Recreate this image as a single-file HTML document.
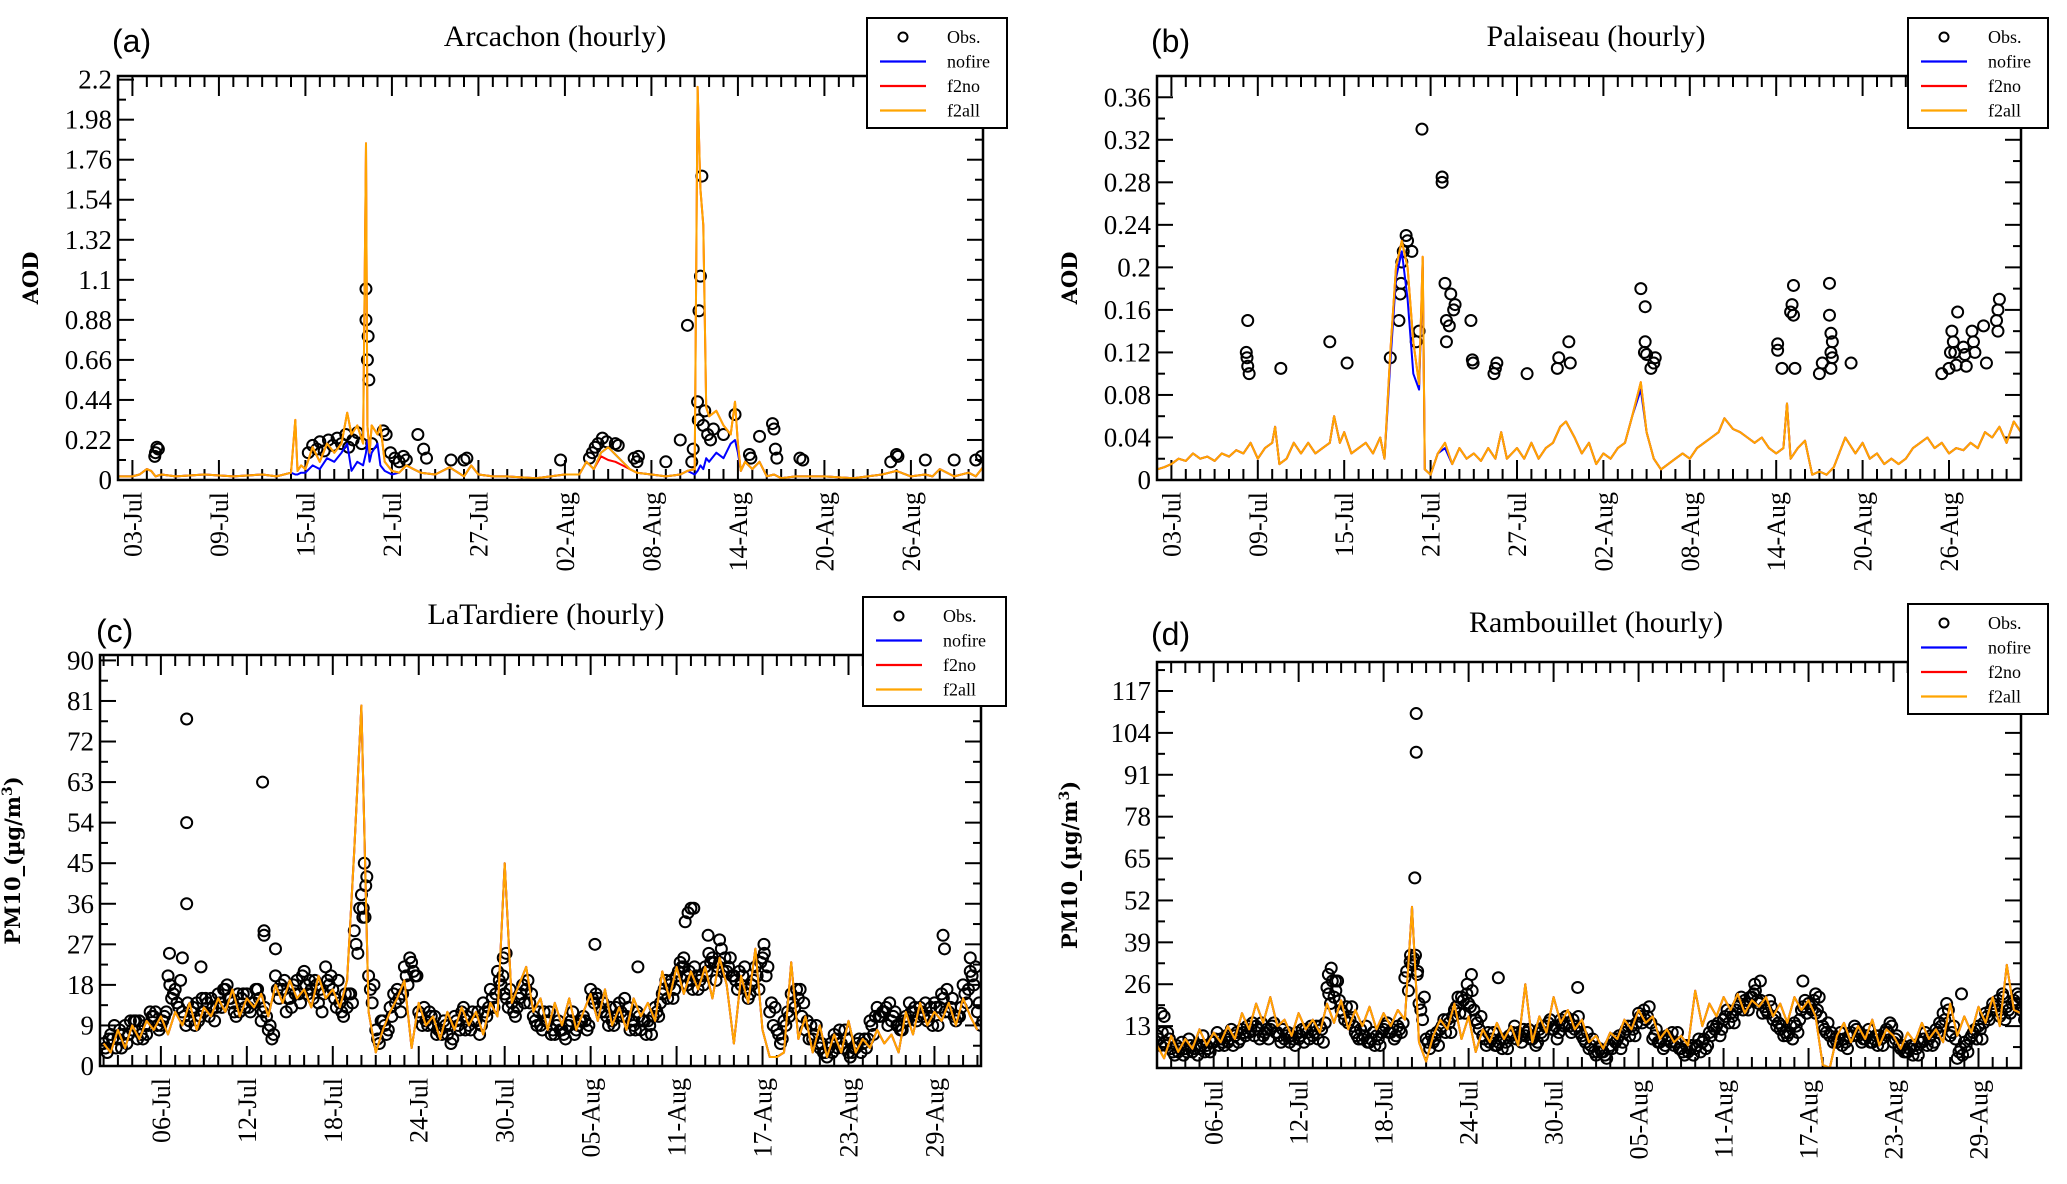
<!DOCTYPE html>
<html><head><meta charset="utf-8"><style>
html,body{margin:0;padding:0;background:#fff;}
svg{display:block;}
text{font-family:"Liberation Serif",serif;fill:#000;}
</style></head><body>
<svg id="chart" width="2067" height="1184" viewBox="0 0 2067 1184" xmlns="http://www.w3.org/2000/svg"></svg>
<script>
// ---------- Panel (a) Arcachon AOD ----------
const timeA = [1,2,2.5,3,3.3,3.6,4,5,7,9,11,12,13,13.3,13.45,13.7,14,14.5,15,15.5,16,16.5,16.9,17.2,17.6,18.0,18.2,18.3,18.45,18.6,19,19.2,19.5,20,20.5,21,21.5,22,23,24,25,25.5,26,27,28,30,32,33,33.5,34,34.5,35,35.5,36,36.5,37,38,39,40,40.5,41,41.2,41.4,41.6,41.8,42,42.5,43,43.5,43.8,44,44.2,44.5,45,45.5,46,46.5,47,48,50,52,54,55,56,57,57.5,58,59,60,60.5,61];
const f2allA = [0.02,0.02,0.03,0.06,0.05,0.02,0.03,0.02,0.03,0.02,0.03,0.02,0.04,0.33,0.05,0.08,0.06,0.18,0.1,0.2,0.15,0.2,0.37,0.25,0.3,0.2,1.85,0.3,0.15,0.3,0.25,0.3,0.1,0.05,0.04,0.08,0.06,0.04,0.03,0.07,0.02,0.08,0.03,0.02,0.02,0.01,0.03,0.03,0.1,0.06,0.15,0.18,0.14,0.1,0.06,0.04,0.03,0.02,0.03,0.05,0.06,2.16,1.6,1.4,0.4,0.35,0.38,0.3,0.25,0.43,0.2,0.05,0.1,0.06,0.1,0.02,0.03,0.01,0.02,0.02,0.01,0.03,0.05,0.02,0.03,0.02,0.06,0.02,0.04,0.02,0.07];
const f2noA = [0.02,0.02,0.03,0.06,0.05,0.02,0.03,0.02,0.03,0.02,0.03,0.02,0.04,0.33,0.05,0.08,0.06,0.18,0.1,0.2,0.15,0.2,0.37,0.25,0.3,0.2,1.85,0.3,0.15,0.3,0.25,0.3,0.1,0.05,0.04,0.08,0.06,0.04,0.03,0.07,0.02,0.08,0.03,0.02,0.02,0.01,0.03,0.03,0.1,0.06,0.13,0.11,0.1,0.08,0.06,0.04,0.03,0.02,0.03,0.05,0.06,2.16,1.6,1.4,0.4,0.35,0.38,0.3,0.25,0.43,0.2,0.05,0.1,0.06,0.1,0.02,0.03,0.01,0.02,0.02,0.01,0.03,0.05,0.02,0.03,0.02,0.06,0.02,0.04,0.02,0.07];
const nofireA = [0.02,0.02,0.03,0.06,0.05,0.02,0.03,0.02,0.03,0.02,0.03,0.02,0.04,0.03,0.03,0.04,0.04,0.08,0.06,0.12,0.1,0.15,0.2,0.05,0.1,0.08,0.15,0.22,0.1,0.15,0.2,0.08,0.05,0.03,0.04,0.08,0.06,0.04,0.03,0.07,0.02,0.08,0.03,0.02,0.02,0.01,0.03,0.03,0.1,0.06,0.15,0.18,0.14,0.1,0.06,0.04,0.03,0.02,0.03,0.05,0.03,0.05,0.08,0.06,0.12,0.1,0.15,0.12,0.2,0.22,0.15,0.05,0.1,0.06,0.1,0.02,0.03,0.01,0.02,0.02,0.01,0.03,0.05,0.02,0.03,0.02,0.06,0.02,0.04,0.02,0.07];
const obsTimeA = [3.55,3.6,3.7,3.8,14.2,14.5,14.8,15.0,15.3,15.6,15.9,16.2,16.5,16.8,17.0,17.3,17.6,17.9,18.2,18.2,18.3,18.35,18.4,18.6,19.4,19.6,19.9,20.2,20.5,20.8,21.0,21.8,22.2,22.4,24.1,25.0,25.2,31.7,33.7,33.9,34.1,34.3,34.6,34.9,35.5,35.7,36.8,37.0,37.1,39.0,40.0,40.5,40.8,40.9,41.2,41.25,41.3,41.4,41.5,41.6,41.7,41.9,42.1,42.3,43.0,43.8,44.8,44.9,45.5,46.4,46.5,46.6,46.7,48.3,48.5,54.6,55.0,55.1,57.0,59.0,60.5,60.9];
const obsA = [0.13,0.15,0.18,0.17,0.15,0.19,0.17,0.21,0.16,0.22,0.19,0.23,0.2,0.25,0.18,0.22,0.26,0.2,1.05,0.88,0.66,0.79,0.55,0.2,0.27,0.25,0.15,0.12,0.1,0.13,0.11,0.25,0.17,0.12,0.11,0.11,0.12,0.11,0.12,0.15,0.18,0.2,0.23,0.21,0.2,0.19,0.12,0.1,0.13,0.1,0.22,0.85,0.1,0.17,0.43,0.33,0.93,1.12,1.67,0.3,0.38,0.25,0.22,0.28,0.25,0.36,0.14,0.12,0.24,0.31,0.28,0.17,0.12,0.12,0.11,0.1,0.14,0.13,0.11,0.11,0.11,0.13];
const yTicksA = [0,0.22,0.44,0.66,0.88,1.1,1.32,1.54,1.76,1.98,2.2];
const yLabelsA = ["0","0.22","0.44","0.66","0.88","1.1","1.32","1.54","1.76","1.98","2.2"];

// ---------- Panel (b) Palaiseau AOD ----------
const timeB = [1,1.5,2,2.5,3,3.5,4,4.5,5,5.5,6,6.5,7,7.5,8,8.5,9,9.2,9.5,10,10.5,11,11.5,12,12.5,13,13.3,13.7,14,14.5,15,15.5,16,16.5,16.8,17.2,17.6,18.0,18.4,18.8,19.2,19.45,19.6,20,20.5,21,21.5,22,22.5,23,23.5,24,24.5,24.9,25.3,26,26.5,27,27.5,28,28.5,29,29.4,30,30.5,31,31.5,32,32.5,33,33.5,34,34.6,35,35.5,36,36.5,37,37.5,38,38.5,39,39.5,40,40.4,41,41.5,42,42.5,43,43.5,44,44.5,44.75,45,45.5,46,46.5,47,47.5,48,48.8,49.5,50,50.5,51,51.5,52,52.5,53,53.5,54,54.5,55,55.5,56,56.5,57,57.5,58,58.5,59,59.5,60,60.5,61];
const f2allB = [0.01,0.012,0.015,0.02,0.018,0.025,0.02,0.022,0.018,0.025,0.022,0.028,0.025,0.035,0.02,0.03,0.035,0.05,0.015,0.02,0.035,0.025,0.035,0.025,0.03,0.035,0.06,0.035,0.045,0.025,0.03,0.035,0.025,0.04,0.02,0.12,0.2,0.225,0.2,0.13,0.09,0.21,0.01,0.005,0.025,0.035,0.015,0.03,0.02,0.025,0.018,0.03,0.02,0.045,0.02,0.03,0.02,0.035,0.02,0.03,0.035,0.05,0.055,0.04,0.025,0.035,0.015,0.025,0.02,0.03,0.035,0.06,0.092,0.045,0.02,0.01,0.015,0.02,0.025,0.02,0.03,0.035,0.04,0.045,0.058,0.048,0.045,0.04,0.035,0.04,0.03,0.025,0.03,0.072,0.02,0.03,0.037,0.005,0.008,0.005,0.012,0.04,0.025,0.035,0.02,0.025,0.015,0.02,0.015,0.02,0.03,0.035,0.04,0.03,0.035,0.025,0.03,0.028,0.035,0.03,0.045,0.04,0.05,0.035,0.055,0.045];
const nofireB = [0.01,0.012,0.015,0.02,0.018,0.025,0.02,0.022,0.018,0.025,0.022,0.028,0.025,0.035,0.02,0.03,0.035,0.05,0.015,0.02,0.035,0.025,0.035,0.025,0.03,0.035,0.06,0.035,0.045,0.025,0.03,0.035,0.025,0.04,0.02,0.11,0.19,0.215,0.17,0.1,0.085,0.2,0.01,0.005,0.025,0.03,0.015,0.03,0.02,0.025,0.018,0.03,0.02,0.045,0.02,0.03,0.02,0.035,0.02,0.03,0.035,0.05,0.055,0.04,0.025,0.035,0.015,0.025,0.02,0.03,0.035,0.06,0.085,0.045,0.02,0.01,0.015,0.02,0.025,0.02,0.03,0.035,0.04,0.045,0.058,0.048,0.045,0.04,0.035,0.04,0.03,0.025,0.03,0.072,0.02,0.03,0.037,0.005,0.008,0.005,0.012,0.04,0.025,0.035,0.02,0.025,0.015,0.02,0.015,0.02,0.03,0.035,0.04,0.03,0.035,0.025,0.03,0.028,0.035,0.03,0.045,0.04,0.05,0.035,0.055,0.045];
const f2noB = f2allB;
const obsTimeB = [7.3,7.2,7.25,7.3,7.4,9.6,13.0,14.2,17.2,17.8,17.9,17.95,18.0,18.1,18.3,18.4,18.7,19.0,19.2,19.4,20.8,20.8,21.0,21.1,21.1,21.3,21.4,21.6,21.7,22.8,22.9,22.95,24.5,24.6,24.4,26.7,28.8,28.9,29.6,29.7,34.6,34.9,34.9,34.85,35.0,35.3,35.5,35.6,44.1,44.1,44.4,45.0,45.1,45.2,45.2,45.3,47.0,47.2,47.7,47.7,47.8,47.9,47.8,47.9,47.8,49.2,55.5,56.0,56.1,56.2,56.3,56.4,56.6,56.5,57.0,57.1,57.2,57.6,57.7,57.8,58.4,58.6,59.4,59.5,59.4,59.3];
const obsB = [0.15,0.12,0.115,0.107,0.1,0.105,0.13,0.11,0.115,0.15,0.175,0.185,0.205,0.215,0.23,0.225,0.215,0.13,0.14,0.33,0.28,0.285,0.185,0.15,0.13,0.145,0.175,0.16,0.165,0.15,0.113,0.11,0.105,0.11,0.1,0.1,0.105,0.115,0.13,0.11,0.18,0.163,0.13,0.12,0.118,0.105,0.11,0.115,0.128,0.122,0.105,0.158,0.165,0.183,0.155,0.105,0.1,0.11,0.185,0.155,0.138,0.13,0.12,0.115,0.105,0.11,0.1,0.105,0.12,0.14,0.13,0.12,0.158,0.108,0.125,0.118,0.107,0.14,0.13,0.12,0.145,0.11,0.16,0.17,0.14,0.15];
const yTicksB = [0,0.04,0.08,0.12,0.16,0.2,0.24,0.28,0.32,0.36];
const yLabelsB = ["0","0.04","0.08","0.12","0.16","0.2","0.24","0.28","0.32","0.36"];

// ---------- Panel (c) LaTardiere PM10 (half-daily from day 1) ----------
const f2allC = [5,3,8,4,9,6,10,8,11,7,12,9,14,8,13,11,15,12,17,11,15,13,16,11,18,14,19,15,17,13,20,15,17,13,19,48,80,12,3,8,12,15,19,4,14,9,11,6,12,8,13,9,12,7,14,11,45,14,18,22,12,15,8,14,9,15,8,12,16,10,17,9,13,8,15,11,14,10,21,15,22,16,21,17,22,15,24,18,5,20,14,26,8,2,2,3,23,6,11,3,9,2,7,3,10,3,6,4,8,5,7,3,12,7,14,9,12,10,14,9,15,11,8];
const nofireC = f2allC;
const f2noC = f2allC;
const obsC = [5,7,6,9,8,10,7,11,9,20,17,12,10,14,12,15,16,17,14,12,16,14,10,8,20,17,15,19,21,17,14,22,17,14,13,30,38,20,8,10,13,17,22,23,12,10,9,8,7,11,12,9,10,14,17,21,16,14,15,17,11,9,10,7,8,9,8,11,17,15,12,10,14,11,9,8,10,13,16,18,20,22,19,17,22,24,23,21,20,18,15,22,24,12,8,10,16,15,8,6,4,2,7,5,3,4,5,10,13,12,10,9,11,12,13,10,14,16,12,10,18,21,12];
const obsC2 = [3,9,4,7,10,6,12,9,11,15,13,9,13,11,14,10,13,15,11,16,12,17,13,6,15,12,18,14,16,19,12,18,13,11,16,25,33,14,5,7,16,12,18,20,9,12,7,10,5,9,8,12,7,11,13,18,13,11,18,14,9,12,7,10,6,12,10,8,14,12,9,13,11,8,12,10,7,11,19,15,23,18,22,20,25,19,21,24,17,22,18,17,20,9,5,12,13,11,6,9,3,5,4,8,3,6,4,7,11,9,12,8,14,10,11,13,9,12,15,11,14,18,9];
const obsC3 = [4,6,8,5,10,7,9,12,10,18,14,11,12,10,15,13,14,18,12,15,13,17,12,9,17,19,13,16,18,15,17,19,15,12,16,27,35,17,6,9,11,15,20,21,11,9,11,7,9,10,13,8,12,12,15,19,15,12,16,19,10,8,12,9,7,10,9,10,15,13,11,9,12,13,8,10,9,12,17,19,21,20,17,19,21,23,26,22,19,20,16,20,25,14,7,9,14,17,10,7,5,4,6,4,2,5,6,9,11,13,11,8,10,13,12,11,13,15,13,11,16,20,14];
const obsC4 = [6,4,7,10,6,9,11,8,12,16,19,14,9,15,11,13,17,15,16,13,14,15,11,7,18,15,16,20,19,18,16,20,19,16,14,35,42,18,10,8,14,16,24,20,13,11,8,9,6,8,11,10,9,13,16,20,17,13,14,16,12,10,8,8,9,7,10,9,16,14,13,11,15,10,11,7,11,14,15,17,22,21,20,18,23,22,24,20,21,17,19,23,22,13,6,11,17,14,9,5,3,3,8,6,4,3,6,11,12,14,9,10,12,11,14,9,13,17,11,13,17,22,10];
const outTimeC = [6.8,6.8,6.8,12.1,12.2,12.2,13.0,5.6,6.5,7.8,19.2,19.3,19.1,29.1,28.9,35.3,38.3,41.5,41.6,41.8,42.0,42.2,43.2,44.0,47.1,59.6,59.7,61.5];
const outC = [77,54,36,63,30,29,26,25,24,22,45,40,33,25,24,27,22,24,32,34,35,35,29,28,27,29,26,24];
const yTicksC = [0,9,18,27,36,45,54,63,72,81,90];
const yLabelsC = ["0","9","18","27","36","45","54","63","72","81","90"];

// ---------- Panel (d) Rambouillet PM10 (half-daily from day 1) ----------
const f2allD = [7,3,10,5,9,6,12,7,11,8,13,9,17,12,20,14,22,13,15,10,17,12,15,11,20,14,21,12,18,13,19,12,17,13,18,15,50,8,2,10,15,12,20,9,16,5,12,8,14,9,13,7,26,8,16,11,22,14,18,12,15,8,10,6,11,9,15,12,18,14,16,9,12,8,10,7,24,13,20,16,22,18,23,17,21,19,22,16,20,14,22,18,21,16,1,0,10,14,8,13,9,15,7,12,10,6,11,8,14,9,12,8,20,10,16,11,19,14,22,13,32,18,17];
const nofireD = f2allD;
const f2noD = f2allD;
const obsD = [10,8,6,5,6,5,6,7,8,9,8,10,12,11,13,10,12,11,9,10,9,12,10,13,25,22,18,14,11,9,8,10,12,11,13,28,32,20,9,8,12,15,18,22,20,15,10,8,7,9,10,11,10,9,12,13,12,15,14,12,10,6,4,5,7,9,11,13,17,15,9,8,10,7,6,5,6,8,11,13,15,17,19,21,22,20,18,15,12,10,14,18,20,17,13,10,8,9,11,10,9,8,10,12,8,6,5,7,8,9,12,17,10,3,8,10,13,17,20,16,19,21,18];
const obsD2 = [7,11,4,8,9,7,10,5,11,7,12,8,10,14,9,12,14,8,11,7,12,9,13,8,20,27,15,19,9,13,11,7,14,9,11,24,35,15,6,11,15,11,22,17,24,12,7,11,9,6,13,8,12,7,10,15,9,13,11,16,8,9,6,3,9,6,13,10,14,19,12,6,8,11,4,7,9,6,13,10,18,14,22,18,24,17,21,13,10,13,11,21,18,22,11,8,11,6,13,8,12,10,7,14,10,5,7,4,11,7,14,20,13,6,5,12,9,15,18,22,17,23,15];
const obsD3 = [9,7,5,6,5,6,7,6,9,8,9,11,11,12,12,11,13,10,10,9,10,11,11,12,23,24,17,15,10,10,9,9,13,12,12,30,34,18,8,9,13,14,19,21,19,14,9,9,8,8,11,10,11,10,11,14,13,14,13,13,9,7,5,4,6,10,12,12,16,16,10,9,9,8,5,6,7,9,10,14,16,16,20,20,23,21,17,16,13,11,13,19,19,18,12,11,9,8,10,11,10,9,9,11,9,7,6,6,9,10,11,15,11,5,7,11,12,16,19,17,18,20,19];
const obsD4 = [11,9,7,4,7,4,5,8,7,10,7,9,13,10,14,9,11,12,8,11,8,13,9,14,27,21,19,13,12,8,7,11,11,10,14,33,29,22,10,7,11,16,17,23,18,16,11,7,6,10,9,12,9,8,13,12,11,16,15,11,11,5,5,6,8,8,10,14,18,14,8,7,11,6,7,4,5,7,12,12,14,18,18,22,21,19,19,14,11,9,15,17,21,16,14,9,7,10,12,9,8,7,11,13,7,5,4,8,7,8,13,18,9,4,9,9,14,18,21,15,20,22,17];
const outTimeD = [19.3,19.3,19.2,18.9,19.1,19.4,13.3,13.6,13.1,23.2,22.9,25.1,30.7,43.2,43.6,46.6,47.5,57.8,1.3,1.5,60.7];
const outD = [110,98,59,35,33,30,31,27,29,29,26,28,25,26,27,27,23,23,17,16,23];
const yTicksD = [13,26,39,52,65,78,91,104,117];
const yLabelsD = ["13","26","39","52","65","78","91","104","117"];

// ---------- x-axis date labels ----------
const dateTicksAB = [2,8,14,20,26,32,38,44,50,56];
const dateLabelsAB = ["03-Jul","09-Jul","15-Jul","21-Jul","27-Jul","02-Aug","08-Aug","14-Aug","20-Aug","26-Aug"];
const dateTicksCD = [5,11,17,23,29,35,41,47,53,59];
const dateLabelsCD = ["06-Jul","12-Jul","18-Jul","24-Jul","30-Jul","05-Aug","11-Aug","17-Aug","23-Aug","29-Aug"];

const NS = "http://www.w3.org/2000/svg";
const svg = document.getElementById("chart");
function mk(tag, attrs, parent) {
  const e = document.createElementNS(NS, tag);
  for (const k in attrs) e.setAttribute(k, attrs[k]);
  (parent || svg).appendChild(e);
  return e;
}
function halfTimes(n, off) { const t = []; for (let i = 0; i < n; i++) t.push(1 + 0.5 * i + (off || 0)); return t; }

function panel(cfg) {
  const g = mk("g", {});
  
  
  const {x0, x1, y0, y1, tmin, tmax, vmin, vmax} = cfg;
  const X = t => x0 + (t - tmin) / (tmax - tmin) * (x1 - x0);
  const Y = v => y1 - (v - vmin) / (vmax - vmin) * (y1 - y0);
  const clip = mk("clipPath", {id: "clip-" + cfg.name}, g);
  mk("rect", {x: x0, y: y0, width: x1 - x0, height: y1 - y0}, clip);

  const xt = mk("g", {stroke: "#000", "stroke-width": 2}, g);
  
  
  for (let d = Math.ceil(tmin); d <= tmax; d++) {
    const major = cfg.xTicks.indexOf(d) >= 0;
    const L = major ? 20 : 11;
    mk("line", {x1: X(d), x2: X(d), y1: y1, y2: y1 - L}, xt);
    mk("line", {x1: X(d), x2: X(d), y1: y0, y2: y0 + L}, xt);
  }
  const yt = mk("g", {stroke: "#000", "stroke-width": 2}, g);
  
  
  const step = cfg.yTicks[1] - cfg.yTicks[0];
  for (let v = cfg.yTicks[0] - step; v <= vmax + 1e-9; v += step / 2) {
    if (v < vmin - 1e-9) continue;
    const k = Math.round((v - cfg.yTicks[0]) / (step / 2));
    const L = (k % 2 === 0) ? 16 : 8;
    mk("line", {x1: x0, x2: x0 + L, y1: Y(v), y2: Y(v)}, yt);
    mk("line", {x1: x1, x2: x1 - L, y1: Y(v), y2: Y(v)}, yt);
  }
  cfg.yTicks.forEach((v, i) => {
    const tx = mk("text", {x: x0 - 6, y: Y(v) + 9, "text-anchor": "end", "font-size": 27}, g);
    tx.textContent = cfg.yLabels[i];
    
    
  });
  cfg.xTicks.forEach((d, i) => {
    const tx = mk("text", {x: 0, y: 0, "text-anchor": "end", "font-size": 26,
      transform: `translate(${X(d) + 9},${y1 + 12}) rotate(-90)`}, g);
    tx.textContent = cfg.xLabels[i];
    
    
  });

  const plot = mk("g", {"clip-path": `url(#clip-${cfg.name})`}, g);
  const og = mk("g", {fill: "none", stroke: "#000", "stroke-width": 2}, plot);
  
  
  cfg.obsSets.forEach(s => {
    const n = Math.min(s.t.length, s.v.length);
    for (let i = 0; i < n; i++) {
      const c = mk("circle", {cx: X(s.t[i]), cy: Y(s.v[i]), r: 5.5}, og);
      
      
    }
  });
  cfg.lines.forEach(l => {
    const n = Math.min(l.t.length, l.v.length);
    let d = "";
    for (let i = 0; i < n; i++) d += (i ? "L" : "M") + X(l.t[i]).toFixed(1) + "," + Y(l.v[i]).toFixed(1);
    const p = mk("path", {d: d, fill: "none", stroke: l.color, "stroke-width": 2, "stroke-linejoin": "round"}, plot);
    
    
  });
  const fr = mk("rect", {x: x0, y: y0, width: x1 - x0, height: y1 - y0, fill: "none", stroke: "#000", "stroke-width": 2.5}, g);
  
  

  const ti = mk("text", {x: cfg.titleX, y: cfg.titleY, "text-anchor": "middle", "font-size": 30}, g);
  ti.textContent = cfg.title;
  
  
  const lb = mk("text", {x: cfg.tagX, y: cfg.tagY, "font-size": 32, style: 'font-family:"Liberation Sans",sans-serif'}, g);
  lb.textContent = cfg.tag;
  
  
  const yl = mk("text", {x: 0, y: 0, "text-anchor": "middle", "font-size": 21, "font-weight": "bold",
    style: 'font-family:"DejaVu Serif",serif', transform: `translate(${x0 - 80},${(y0 + y1) / 2}) rotate(-90)`}, g);
  if (cfg.unit) {
    yl.textContent = "PM10_(µg/m";
    const sup = mk("tspan", {dy: -8, "font-size": 14}, yl); sup.textContent = "3";
    const cl = mk("tspan", {dy: 8}, yl); cl.textContent = ")";
  } else yl.textContent = "AOD";
  
  

  const lg = mk("g", {}, g);
  
  
  const [lx, ly, lw, lh] = cfg.legend;
  mk("rect", {x: lx, y: ly, width: lw, height: lh, fill: "#fff", stroke: "#000", "stroke-width": 2}, lg);
  const entries = [["Obs.", null], ["nofire", "#0000ff"], ["f2no", "#ff0000"], ["f2all", "#ffa500"]];
  entries.forEach((e, i) => {
    const cy = ly + 19 + i * 24.5;
    const eg = mk("g", {}, lg);
    
    
    if (e[1]) mk("line", {x1: lx + 13, x2: lx + 59, y1: cy, y2: cy, stroke: e[1], "stroke-width": 2.2}, eg);
    else mk("circle", {cx: lx + 36, cy: cy, r: 4.5, fill: "none", stroke: "#000", "stroke-width": 2}, eg);
    const t = mk("text", {x: lx + 80, y: cy + 6, "font-size": 18}, eg);
    t.textContent = e[0];
  });
}

panel({name: "panel-a", x0: 118, x1: 983, y0: 76, y1: 480, tmin: 1, tmax: 61, vmin: 0, vmax: 2.22,
  yTicks: yTicksA, yLabels: yLabelsA, xTicks: dateTicksAB, xLabels: dateLabelsAB,
  obsSets: [{t: obsTimeA, v: obsA}],
  lines: [{name: "nofire", t: timeA, v: nofireA, color: "#0000ff"}, {name: "f2no", t: timeA, v: f2noA, color: "#ff0000"}, {name: "f2all", t: timeA, v: f2allA, color: "#ffa500"}],
  title: "Arcachon (hourly)", titleX: 555, titleY: 46, tag: "(a)", tagX: 112, tagY: 52, legend: [867, 18, 140, 110]});
panel({name: "panel-b", x0: 1157, x1: 2021, y0: 76, y1: 480, tmin: 1, tmax: 61, vmin: 0, vmax: 0.38,
  yTicks: yTicksB, yLabels: yLabelsB, xTicks: dateTicksAB, xLabels: dateLabelsAB,
  obsSets: [{t: obsTimeB, v: obsB}],
  lines: [{name: "nofire", t: timeB, v: nofireB, color: "#0000ff"}, {name: "f2no", t: timeB, v: f2noB, color: "#ff0000"}, {name: "f2all", t: timeB, v: f2allB, color: "#ffa500"}],
  title: "Palaiseau (hourly)", titleX: 1596, titleY: 46, tag: "(b)", tagX: 1151, tagY: 52, legend: [1908, 18, 140, 110]});
panel({name: "panel-c", x0: 100, x1: 981, y0: 655, y1: 1066, tmin: 0.75, tmax: 62.25, vmin: 0, vmax: 91.2,
  yTicks: yTicksC, yLabels: yLabelsC, xTicks: dateTicksCD, xLabels: dateLabelsCD, unit: true,
  obsSets: [{t: halfTimes(obsC.length, 0), v: obsC}, {t: halfTimes(obsC2.length, 0.25), v: obsC2}, {t: halfTimes(obsC3.length, 0.125), v: obsC3}, {t: halfTimes(obsC4.length, 0.375), v: obsC4}, {t: outTimeC, v: outC}],
  lines: [{name: "nofire", t: halfTimes(nofireC.length), v: nofireC, color: "#0000ff"}, {name: "f2no", t: halfTimes(f2noC.length), v: f2noC, color: "#ff0000"}, {name: "f2all", t: halfTimes(f2allC.length), v: f2allC, color: "#ffa500"}],
  title: "LaTardiere (hourly)", titleX: 546, titleY: 624, tag: "(c)", tagX: 96, tagY: 642, legend: [863, 597, 143, 109]});
panel({name: "panel-d", x0: 1157, x1: 2021, y0: 662, y1: 1068, tmin: 1, tmax: 62, vmin: 0, vmax: 126,
  yTicks: yTicksD, yLabels: yLabelsD, xTicks: dateTicksCD, xLabels: dateLabelsCD, unit: true,
  obsSets: [{t: halfTimes(obsD.length, 0), v: obsD}, {t: halfTimes(obsD2.length, 0.25), v: obsD2}, {t: halfTimes(obsD3.length, 0.125), v: obsD3}, {t: halfTimes(obsD4.length, 0.375), v: obsD4}, {t: outTimeD, v: outD}],
  lines: [{name: "nofire", t: halfTimes(nofireD.length), v: nofireD, color: "#0000ff"}, {name: "f2no", t: halfTimes(f2noD.length), v: f2noD, color: "#ff0000"}, {name: "f2all", t: halfTimes(f2allD.length), v: f2allD, color: "#ffa500"}],
  title: "Rambouillet (hourly)", titleX: 1596, titleY: 632, tag: "(d)", tagX: 1151, tagY: 645, legend: [1908, 604, 140, 110]});
</script>
</body></html>
